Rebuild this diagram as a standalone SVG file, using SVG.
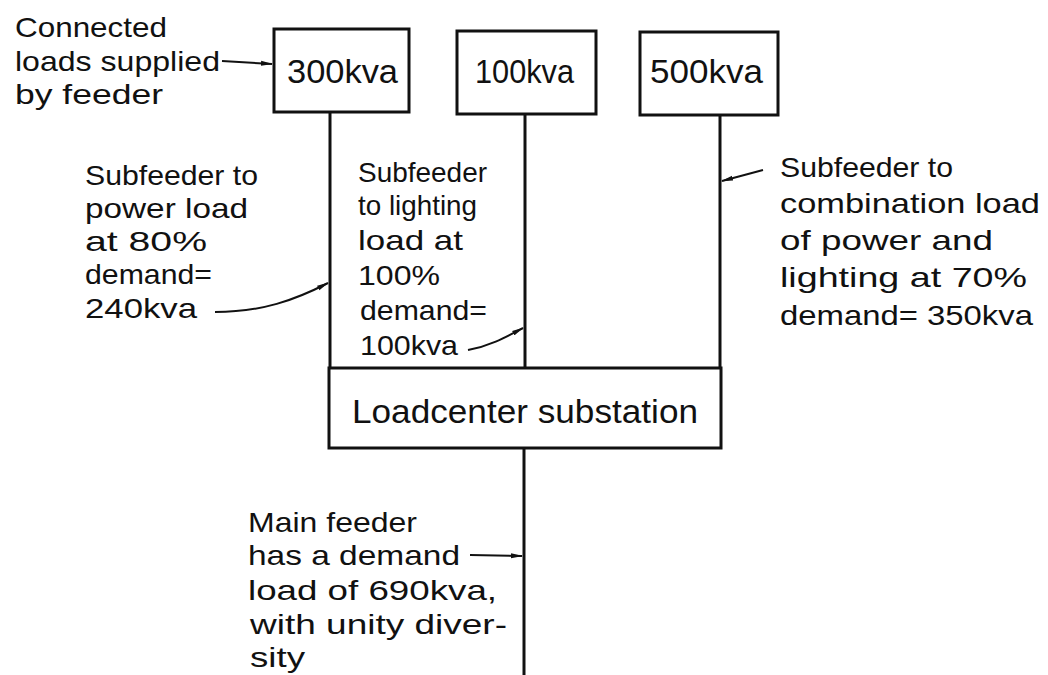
<svg xmlns="http://www.w3.org/2000/svg" width="1048" height="675" viewBox="0 0 1048 675">
<defs>
<style>
.box{fill:#fff;stroke:#111;stroke-width:3}
.wire{fill:none;stroke:#111;stroke-width:3}
.lead{fill:none;stroke:#111;stroke-width:2}
text{font-family:"Liberation Sans",Arial,sans-serif;font-size:28px;fill:#111}
.bt{font-size:34px}
.st{font-size:33px}
</style>
<marker id="ah" viewBox="0 0 12 6" refX="11" refY="3" markerWidth="12" markerHeight="6" markerUnits="userSpaceOnUse" orient="auto">
<path d="M0,0.5 L12,3 L0,5.5 Z" fill="#111"/>
</marker>
</defs>
<rect width="1048" height="675" fill="#fff"/>
<g id="connectors">
<line class="wire" x1="330" y1="112" x2="330" y2="368"/>
<line class="wire" x1="525" y1="114" x2="525" y2="368"/>
<line class="wire" x1="720" y1="115" x2="720" y2="368"/>
<line class="wire" x1="524" y1="448" x2="524" y2="675"/>
<path class="lead" d="M222,61 L272,64" marker-end="url(#ah)"/>
<path class="lead" d="M215,312 C262,312 295,300 328,283" marker-end="url(#ah)"/>
<path class="lead" d="M468,350 C490,346 506,337 523,328" marker-end="url(#ah)"/>
<path class="lead" d="M763,170 L722,181" marker-end="url(#ah)"/>
<path class="lead" d="M470,555 L522,556" marker-end="url(#ah)"/>
</g>
<g id="load300">
<rect class="box" x="274" y="29" width="135" height="83"/>
<text class="bt" x="287" y="83" textLength="111" lengthAdjust="spacingAndGlyphs">300kva</text>
</g>
<g id="load100">
<rect class="box" x="457" y="31" width="139" height="83"/>
<text class="bt" x="475" y="83" textLength="99" lengthAdjust="spacingAndGlyphs">100kva</text>
</g>
<g id="load500">
<rect class="box" x="640" y="32" width="138" height="83"/>
<text class="bt" x="650" y="83" textLength="113" lengthAdjust="spacingAndGlyphs">500kva</text>
</g>
<g id="substation">
<rect class="box" x="329" y="368" width="392" height="80"/>
<text class="st" x="352" y="423" textLength="346" lengthAdjust="spacingAndGlyphs">Loadcenter substation</text>
</g>
<g id="label-connected">
<text x="15" y="37" textLength="152" lengthAdjust="spacingAndGlyphs">Connected</text>
<text x="15" y="71" textLength="205" lengthAdjust="spacingAndGlyphs">loads supplied</text>
<text x="15" y="104" textLength="148" lengthAdjust="spacingAndGlyphs">by feeder</text>
</g>
<g id="label-power">
<text x="85" y="185" textLength="173" lengthAdjust="spacingAndGlyphs">Subfeeder to</text>
<text x="85" y="218" textLength="163" lengthAdjust="spacingAndGlyphs">power load</text>
<text x="85" y="251" textLength="122" lengthAdjust="spacingAndGlyphs">at 80%</text>
<text x="85" y="284" textLength="127" lengthAdjust="spacingAndGlyphs">demand=</text>
<text x="85" y="318" textLength="112" lengthAdjust="spacingAndGlyphs">240kva</text>
</g>
<g id="label-lighting">
<text x="358" y="182" textLength="129" lengthAdjust="spacingAndGlyphs">Subfeeder</text>
<text x="358" y="215" textLength="119" lengthAdjust="spacingAndGlyphs">to lighting</text>
<text x="358" y="250" textLength="105" lengthAdjust="spacingAndGlyphs">load at</text>
<text x="358" y="285" textLength="82" lengthAdjust="spacingAndGlyphs">100%</text>
<text x="360" y="320" textLength="127" lengthAdjust="spacingAndGlyphs">demand=</text>
<text x="360" y="355" textLength="98" lengthAdjust="spacingAndGlyphs">100kva</text>
</g>
<g id="label-combination">
<text x="780" y="177" textLength="173" lengthAdjust="spacingAndGlyphs">Subfeeder to</text>
<text x="780" y="213" textLength="260" lengthAdjust="spacingAndGlyphs">combination load</text>
<text x="780" y="250" textLength="213" lengthAdjust="spacingAndGlyphs">of power and</text>
<text x="780" y="287" textLength="247" lengthAdjust="spacingAndGlyphs">lighting at 70%</text>
<text x="780" y="325" textLength="253" lengthAdjust="spacingAndGlyphs">demand= 350kva</text>
</g>
<g id="label-main">
<text x="248" y="532" textLength="169" lengthAdjust="spacingAndGlyphs">Main feeder</text>
<text x="248" y="565" textLength="212" lengthAdjust="spacingAndGlyphs">has a demand</text>
<text x="248" y="600" textLength="249" lengthAdjust="spacingAndGlyphs">load of 690kva,</text>
<text x="250" y="634" textLength="257" lengthAdjust="spacingAndGlyphs">with unity diver-</text>
<text x="250" y="667" textLength="55" lengthAdjust="spacingAndGlyphs">sity</text>
</g>
</svg>
